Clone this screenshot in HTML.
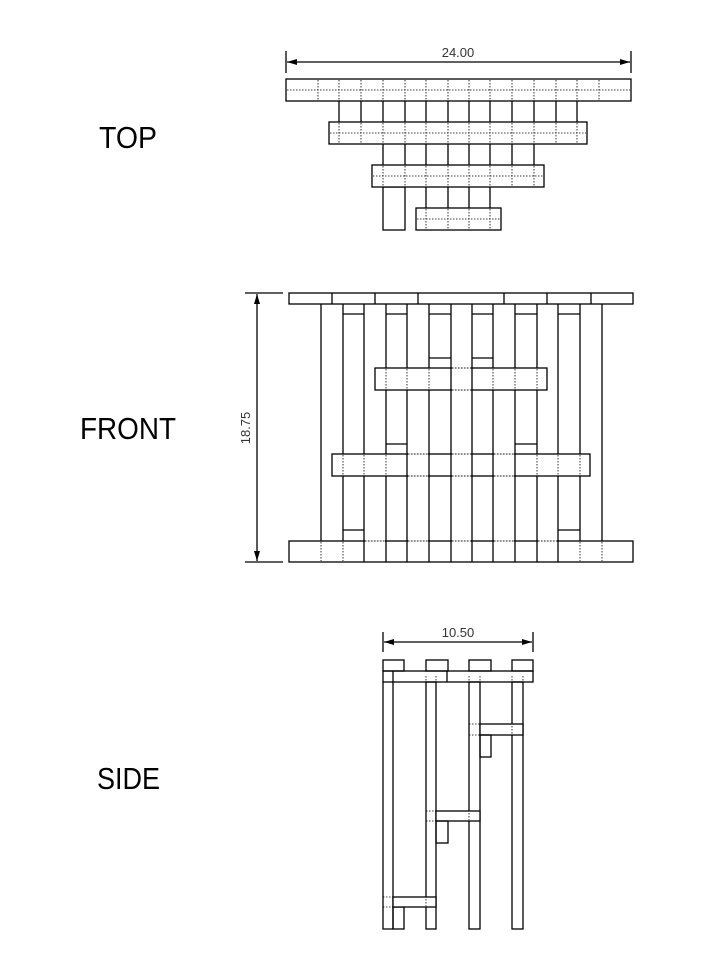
<!DOCTYPE html>
<html><head><style>html,body{margin:0;padding:0;background:#fff}svg{display:block}</style></head><body>
<svg width="726" height="958" viewBox="0 0 726 958" xmlns="http://www.w3.org/2000/svg">
<defs><marker id="a" markerWidth="10" markerHeight="6" refX="10" refY="3" orient="auto-start-reverse" markerUnits="userSpaceOnUse"><path d="M0,0 L10,3 L0,6 Z" fill="#000"/></marker></defs>
<g font-family="Liberation Sans, sans-serif" fill="#000">
<text x="99" y="148" font-size="31" textLength="58" lengthAdjust="spacingAndGlyphs">TOP</text>
<text x="80" y="439" font-size="31" textLength="96" lengthAdjust="spacingAndGlyphs">FRONT</text>
<text x="97" y="789" font-size="31" textLength="63" lengthAdjust="spacingAndGlyphs">SIDE</text>
<text x="458" y="57" font-size="13" text-anchor="middle" fill="#333">24.00</text>
<text x="458" y="637" font-size="13" text-anchor="middle" fill="#333">10.50</text>
<text transform="translate(250,428) rotate(-90)" font-size="13" text-anchor="middle" fill="#333">18.75</text>
</g>
<g stroke="#000" stroke-width="1.3" fill="none">
<!-- TOP dims -->
<line x1="286" y1="51" x2="286" y2="73"/><line x1="631" y1="51" x2="631" y2="73"/>
<line x1="287" y1="62" x2="630" y2="62" marker-start="url(#a)" marker-end="url(#a)"/>
<!-- top posts between boards -->
<path d="M339 101V122M361 101V122M383 101V122M405 101V122M426 101V122M448 101V122M469 101V122M490 101V122M512 101V122M534 101V122M556 101V122M577 101V122"/>
<path d="M383 144V165M405 144V165M426 144V165M448 144V165M469 144V165M490 144V165M512 144V165M534 144V165"/>
<path d="M426 187V208M448 187V208M469 187V208M490 187V208"/>
<rect x="383" y="187" width="22" height="43"/>
<rect x="286" y="79" width="345" height="22" fill="#fff"/>
<rect x="329" y="122" width="258" height="22" fill="#fff"/>
<rect x="372" y="165" width="172" height="22" fill="#fff"/>
<rect x="416" y="208" width="85" height="22" fill="#fff"/>
</g>
<g stroke="#000" stroke-width="0.8" stroke-dasharray="1.5,1.5" fill="none">
<path d="M287 90H630M318 80V100M339 80V100M361 80V100M383 80V100M405 80V100M426 80V100M448 80V100M469 80V100M490 80V100M512 80V100M534 80V100M556 80V100M577 80V100M599 80V100"/>
<path d="M330 133H586M339 123V143M361 123V143M383 123V143M405 123V143M426 123V143M448 123V143M469 123V143M490 123V143M512 123V143M534 123V143M556 123V143M577 123V143"/>
<path d="M373 176H543M383 166V186M405 166V186M426 166V186M448 166V186M469 166V186M490 166V186M512 166V186M534 166V186"/>
<path d="M417 219H500M426 209V229M448 209V229M469 209V229M490 209V229"/>
</g>
<!-- FRONT -->
<g stroke="#000" stroke-width="1.3" fill="none">
<line x1="245" y1="293" x2="283" y2="293"/><line x1="245" y1="562" x2="283" y2="562"/>
<line x1="257" y1="294" x2="257" y2="561" marker-start="url(#a)" marker-end="url(#a)"/>
<path d="M321 304V541M343 304V541M364 304V541M386 304V541M407 304V541M429 304V541M451 304V541M472 304V541M493 304V541M515 304V541M537 304V541M558 304V541M580 304V541M602 304V541"/>
<path d="M343 314H364M386 314H407M429 314H451M472 314H493M515 314H537M558 314H580M429 358H451M472 358H493M386 444H407M515 444H537M343 530H364M558 530H580"/>
<rect x="375" y="368" width="172" height="22" fill="#fff"/>
<path d="M451 368V390M472 368V390"/>
<rect x="332" y="454" width="258" height="22" fill="#fff"/>
<path d="M407 454V476M429 454V476M451 454V476M472 454V476M493 454V476M515 454V476"/>
<rect x="289" y="293" width="344" height="11" fill="#fff"/>
<path d="M332 293V304M375 293V304M418 293V304M504 293V304M547 293V304M591 293V304"/>
<rect x="289" y="541" width="344" height="21" fill="#fff"/>
<path d="M364 541V562M386 541V562M407 541V562M429 541V562M451 541V562M472 541V562M493 541V562M515 541V562M537 541V562M558 541V562"/>
</g>
<g stroke="#000" stroke-width="0.8" stroke-dasharray="1.5,1.5" fill="none">
<path d="M386 369V389M407 369V389M429 369V389M493 369V389M515 369V389M537 369V389"/>
<path d="M343 455V475M364 455V475M386 455V475M537 455V475M558 455V475M580 455V475"/>
<path d="M321 542V561M343 542V561M580 542V561M602 542V561"/>
</g>
<g stroke="#fff" stroke-width="1.6" fill="none"><path d="M452 368H471M452 390H471M408 454H428M452 454H471M494 454H514M408 476H428M452 476H471M494 476H514M365 541H385M408 541H428M452 541H471M494 541H514M538 541H557"/></g>
<g stroke="#000" stroke-width="0.8" stroke-dasharray="1.5,1.5" fill="none"><path d="M452 368H471M452 390H471M408 454H428M452 454H471M494 454H514M408 476H428M452 476H471M494 476H514M365 541H385M408 541H428M452 541H471M494 541H514M538 541H557"/></g>
<!-- SIDE -->
<g stroke="#000" stroke-width="1.3" fill="none">
<line x1="383" y1="632" x2="383" y2="652"/><line x1="533" y1="632" x2="533" y2="652"/>
<line x1="384" y1="642" x2="532" y2="642" marker-start="url(#a)" marker-end="url(#a)"/>
<rect x="383" y="660" width="21" height="11"/><rect x="426" y="660" width="22" height="11"/><rect x="469" y="660" width="22" height="11"/><rect x="512" y="660" width="21" height="11"/>
<rect x="383" y="671" width="150" height="11"/><path d="M447 671V682"/>
<path d="M383 682V929H393M393 671V929"/>
<rect x="393" y="907" width="11" height="22"/>
<rect x="426" y="682" width="10" height="247"/>
<rect x="469" y="682" width="11" height="247"/>
<rect x="512" y="682" width="11" height="247"/>
<rect x="480" y="724" width="43" height="11" fill="#fff"/><rect x="480" y="735" width="11" height="22"/>
<rect x="436" y="811" width="44" height="10" fill="#fff"/><rect x="436" y="821" width="12" height="22"/>
<rect x="393" y="897" width="43" height="10" fill="#fff"/>
</g>
<g stroke="#000" stroke-width="0.8" stroke-dasharray="1.5,1.5" fill="none">
<path d="M383 682H393M426 676V682M436 676V682M469 676V682M480 676V682M512 676V682M523 676V682M469 724H480M469 735H480M512 726V734M426 811H436M426 821H436M469 813V820M383 897H393M383 907H393M426 899V906"/>
</g>
</svg>
</body></html>
